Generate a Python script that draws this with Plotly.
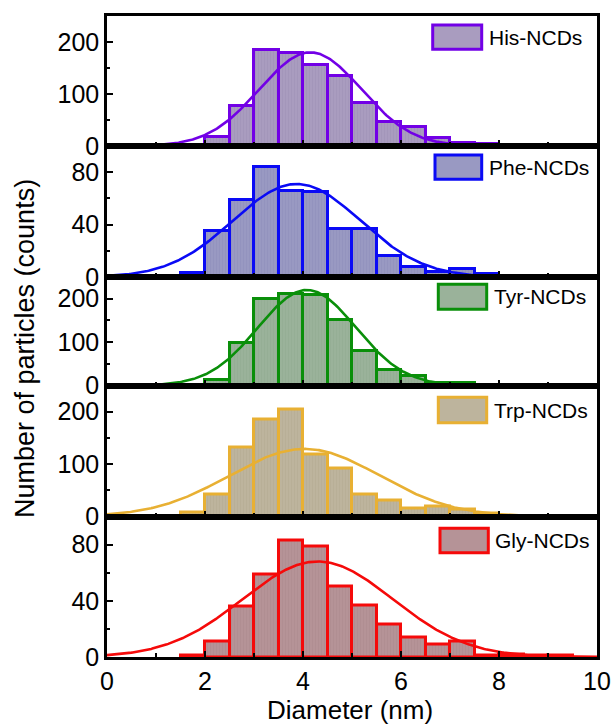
import numpy as np
import plotly.graph_objects as go
from plotly.subplots import make_subplots

# ---------------- data ----------------
bin_centers = [1.75, 2.25, 2.75, 3.25, 3.75, 4.25, 4.75, 5.25, 5.75,
               6.25, 6.75, 7.25, 7.75, 8.25, 8.75, 9.25, 9.75]
bin_width = 0.5

names = ["His-NCDs", "Phe-NCDs", "Tyr-NCDs", "Trp-NCDs", "Gly-NCDs"]

his_counts = [0, 18, 76, 185, 178, 156, 135, 83, 47, 37, 16, 6, 3, 0, 0, 0, 0]
phe_counts = [3, 35, 59, 84, 66, 65, 37, 37, 16, 8, 4, 6, 2, 0, 1, 0, 0]
tyr_counts = [0, 12, 99, 200, 210, 208, 151, 79, 35, 22, 6, 5, 2, 0, 0, 0, 0]
trp_counts = [8, 42, 132, 186, 205, 119, 92, 42, 31, 15, 19, 13, 5, 0, 0, 0, 0]
gly_counts = [1, 11, 36, 59, 83, 79, 50, 37, 23, 14, 9, 11, 1, 2, 1, 1, 0]

# Gaussian fit parameters: centre, width, peak
fit_center = [4.15, 3.87, 4.08, 4.03, 4.30]
fit_sigma = [1.04, 1.30, 1.00, 1.53, 1.53]
fit_peak = [180, 71, 220, 129, 68]

y_ranges = [[0, 250], [0, 100], [0, 250], [0, 250], [0, 100]]
y_dticks = [100, 40, 100, 100, 40]
x_tickvals = [0, 2, 4, 6, 8, 10]

line_colors = ["#7200E6", "#0A0AF5", "#0A8F0A", "#E8B033", "#F50A0A"]
fill_colors = ["#A99CBF", "#9999C2", "#9AB29A", "#BDB49D", "#B59397"]
stripe_colors = ["#9E90B6", "#8E8EB9", "#8FA98F", "#B3AA92", "#AB898D"]

all_counts = [his_counts, phe_counts, tyr_counts, trp_counts, gly_counts]

# ---------------- layout geometry (pixels) ----------------
W, H = 611, 726
ML, MR, MT, MB = 107, 14, 16, 69
plot_top, plot_bot = MT, H - MB
panel_edges = [16, 146, 277, 385.5, 516.5, 657]


def py(px):
    return (plot_bot - px) / (plot_bot - plot_top)


def pxx(px):
    return (px - ML) / (W - ML - MR)


FONT = "Liberation Sans, Arial, sans-serif"

fig = make_subplots(rows=5, cols=1, shared_xaxes=True, vertical_spacing=0)

x_curve = np.linspace(0, 10, 401)
for i in range(5):
    counts = [c if c > 0 else None for c in all_counts[i]]
    fig.add_trace(go.Bar(
        x=bin_centers, y=counts, width=bin_width,
        marker=dict(color=fill_colors[i],
                    line=dict(color=line_colors[i], width=3),
                    pattern=dict(shape="|", size=3, solidity=0.35,
                                 fgcolor=stripe_colors[i], bgcolor=fill_colors[i])),
        showlegend=False, hoverinfo="skip"), row=i + 1, col=1)
    y_curve = fit_peak[i] * np.exp(-(x_curve - fit_center[i]) ** 2 / (2 * fit_sigma[i] ** 2))
    fig.add_trace(go.Scatter(
        x=x_curve, y=y_curve, mode="lines",
        line=dict(color=line_colors[i], width=2.6),
        showlegend=False, hoverinfo="skip"), row=i + 1, col=1)

axis_common = dict(showline=True, linecolor="black", linewidth=2.5, mirror=True,
                   ticks="inside", tickcolor="black", tickwidth=2, ticklen=6,
                   showgrid=False, zeroline=False, automargin=False,
                   tickfont=dict(family=FONT, size=25, color="black"))

for i in range(5):
    top, bot = panel_edges[i], panel_edges[i + 1]
    yname = "yaxis" if i == 0 else f"yaxis{i + 1}"
    xname = "xaxis" if i == 0 else f"xaxis{i + 1}"
    fig.layout[yname].update(domain=[py(bot), py(top)], range=y_ranges[i],
                             dtick=y_dticks[i], tick0=0,
                             minor=dict(dtick=y_dticks[i] / 2, ticks="inside",
                                        ticklen=3, tickwidth=2, tickcolor="black"),
                             **axis_common)
    fig.layout[xname].update(range=[0, 10], tickvals=x_tickvals,
                             minor=dict(dtick=1, ticks="inside", ticklen=4,
                                        tickwidth=2, tickcolor="black"),
                             showticklabels=(i == 4), **axis_common)

# legend boxes drawn per panel (swatch + label), pixel positions
legend_boxes = [
    (432.7, 481.7, 25.0, 49.3),
    (435.0, 481.7, 155.0, 179.3),
    (438.3, 486.7, 284.3, 309.3),
    (438.3, 486.7, 397.3, 422.7),
    (440.0, 488.3, 528.3, 552.7),
]
for i, (x0, x1, y0, y1) in enumerate(legend_boxes):
    fig.add_shape(type="rect", xref="paper", yref="paper",
                  x0=pxx(x0), x1=pxx(x1), y0=py(y1), y1=py(y0),
                  line=dict(color=line_colors[i], width=3),
                  fillcolor=fill_colors[i], layer="above")
    fig.add_annotation(xref="paper", yref="paper", x=pxx(x1 + 5), y=py((y0 + y1) / 2),
                       xanchor="left", yanchor="middle", showarrow=False,
                       text=names[i], font=dict(family=FONT, size=21, color="black"))

# axis titles
fig.add_annotation(xref="paper", yref="paper", x=pxx(350), y=py(710),
                   xanchor="center", yanchor="middle", showarrow=False,
                   text="Diameter (nm)", font=dict(family=FONT, size=26, color="black"))
fig.add_annotation(xref="paper", yref="paper", x=pxx(25), y=py(349),
                   xanchor="center", yanchor="middle", showarrow=False, textangle=-90,
                   text="Number of particles (counts)",
                   font=dict(family=FONT, size=27, color="black"))

fig.update_layout(width=W, height=H, margin=dict(l=ML, r=MR, t=MT, b=MB),
                  paper_bgcolor="white", plot_bgcolor="white", barmode="overlay",
                  bargap=0, font=dict(family=FONT, color="black"))

fig.write_html("out.html", config={"displayModeBar": False},
               post_script="document.body.style.margin='0';document.body.style.padding='0';")
